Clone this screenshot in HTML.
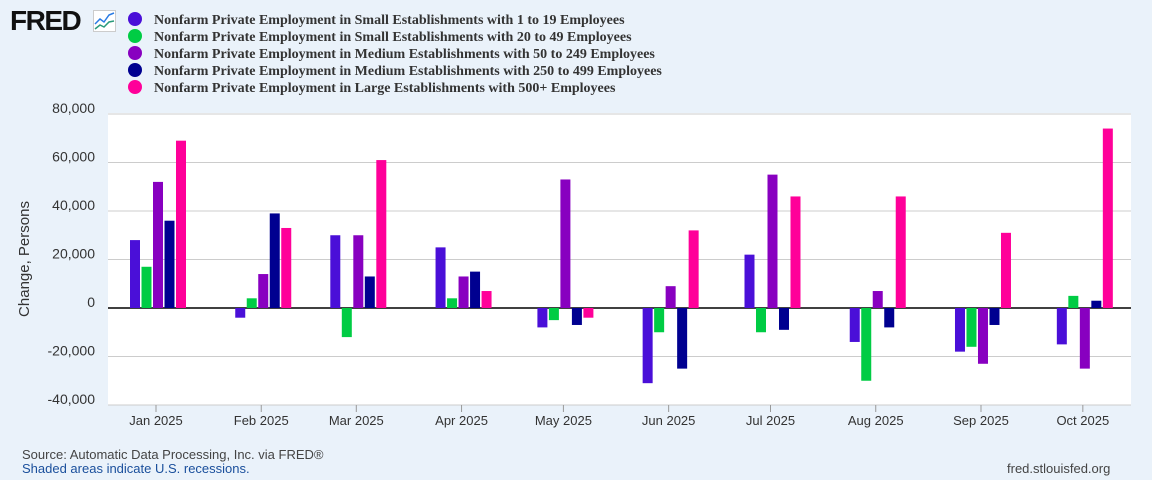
<!DOCTYPE html>
<html><head><meta charset="utf-8"><style>
body{margin:0;width:1152px;height:480px;background:#eaf2fa;font-family:"Liberation Sans",sans-serif;overflow:hidden;position:relative}
.lg{position:absolute;left:128px;font:bold 14px "Liberation Serif",serif;color:#333;white-space:nowrap;line-height:17px}
.lg span{display:inline-block;width:14px;height:14px;border-radius:50%;vertical-align:-2px;margin-right:12px}
</style></head><body>
<div style="position:absolute;left:10px;top:5px;font:bold 28px 'Liberation Sans',sans-serif;color:#111;letter-spacing:-1.5px">FRED</div>
<svg style="position:absolute;left:93px;top:10px" width="23" height="22"><rect x="0.5" y="0.5" width="22" height="21" fill="#fff" stroke="#ccc"/><polyline points="2,14 7,9 11,12 16,5 21,3" fill="none" stroke="#2a7be4" stroke-width="1.5"/><polyline points="2,19 7,15 11,17 16,12 21,11" fill="none" stroke="#2a9a7a" stroke-width="1.5"/></svg>
<div class="lg" style="top:12px"><span style="background:#4a0fd8"></span>Nonfarm Private Employment in Small Establishments with 1 to 19 Employees</div>
<div class="lg" style="top:29px"><span style="background:#00cc44"></span>Nonfarm Private Employment in Small Establishments with 20 to 49 Employees</div>
<div class="lg" style="top:46px"><span style="background:#8800c0"></span>Nonfarm Private Employment in Medium Establishments with 50 to 249 Employees</div>
<div class="lg" style="top:63px"><span style="background:#000090"></span>Nonfarm Private Employment in Medium Establishments with 250 to 499 Employees</div>
<div class="lg" style="top:80px"><span style="background:#ff0099"></span>Nonfarm Private Employment in Large Establishments with 500+ Employees</div>
<svg id="c" width="1152" height="480" style="position:absolute;left:0;top:0"></svg>
<div style="position:absolute;left:22px;top:447px;font-size:13px;color:#444">Source: Automatic Data Processing, Inc. via FRED®</div>
<div style="position:absolute;left:22px;top:461px;font-size:13px;color:#1a4f9c">Shaded areas indicate U.S. recessions.</div>
<div style="position:absolute;left:1007px;top:461px;font-size:13px;color:#444">fred.stlouisfed.org</div>
<script>
const months=["Jan 2025","Feb 2025","Mar 2025","Apr 2025","May 2025","Jun 2025","Jul 2025","Aug 2025","Sep 2025","Oct 2025"];
const monthDays=[0,31,59,90,120,151,181,212,243,273];
const s1=[28000,-4000,30000,25000,-8000,-31000,22000,-14000,-18000,-15000];
const s2=[17000,4000,-12000,4000,-5000,-10000,-10000,-30000,-16000,5000];
const s3=[52000,14000,30000,13000,53000,9000,55000,7000,-23000,-25000];
const s4=[36000,39000,13000,15000,-7000,-25000,-9000,-8000,-7000,3000];
const s5=[69000,33000,61000,7000,-4000,32000,46000,46000,31000,74000];
const yTicks=[80000,60000,40000,20000,0,-20000,-40000];
const series=[s1,s2,s3,s4,s5];
const colors=["#4a0fd8","#00cc44","#8800c0","#000090","#ff0099"];
const names=["1-19","20-49","50-249","250-499","500-plus"];
const ns="http://www.w3.org/2000/svg",svg=document.getElementById('c');
const y=v=>308-v*48.5/20000;
const x=d=>158+d*3.395;
function el(t,a,txt){const e=document.createElementNS(ns,t);for(const k in a)e.setAttribute(k,a[k]);if(txt!==undefined)e.textContent=txt;svg.appendChild(e);return e;}
const bg=el('rect',{x:108,y:113,width:1023,height:292,fill:'#fff'});


yTicks.forEach(v=>{
 const g=el('line',{x1:108,x2:1131,y1:y(v),y2:y(v),stroke:v===0?'#000':'#ccc','stroke-width':v===0?1.5:1});
 
 
 const t=el('text',{x:95,y:y(v)-1,'text-anchor':'end','font-size':14,fill:'#333'},v.toLocaleString('en-US'));
 
 
});
const yt=el('text',{x:29,y:259,'text-anchor':'middle','font-size':15,fill:'#333',transform:'rotate(-90 29 259)'},'Change, Persons');


months.forEach((m,i)=>{
 const cx=x(monthDays[i]);
 const tk=el('line',{x1:cx-2,x2:cx-2,y1:405,y2:412,stroke:'#999'});
 
 
 const t=el('text',{x:cx-2,y:425,'text-anchor':'middle','font-size':13,fill:'#333'},m);
 
 
 series.forEach((s,j)=>{
  const v=s[i],bx=cx+(j-2)*11.5-5;
  const r=el('rect',{x:bx,y:Math.min(y(v),y(0)),width:10,height:Math.abs(y(v)-y(0)),fill:colors[j]});
  
  
 });
});
</script>
</body></html>
